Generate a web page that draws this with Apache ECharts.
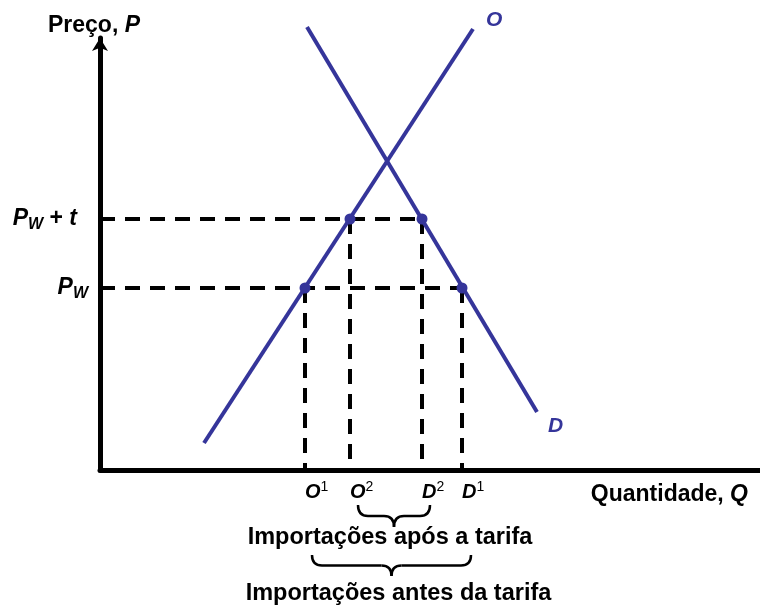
<!DOCTYPE html>
<html>
<head>
<meta charset="utf-8">
<script src="https://cdn.jsdelivr.net/npm/echarts@6/dist/echarts.min.js"></script>
<style>
  html, body { margin: 0; padding: 0; background: #fff; }
  #chart { width: 760px; height: 606px; }
</style>
</head>
<body>
<div id="chart"></div>
<script>
// curve end points (Q, P)
const supply = [[10.4, 2.7], [37.3, 44.1]];
const demand = [[20.7, 44.3], [43.7, 5.8]];

// price levels
const priceW = 18.2;
const priceWt = 25.1;
const yTickValues = [priceW, priceWt];
const yTickLabels = ['{p|P}{w|W}', '{p|P}{w|W}{o| + }{p|t}{g| }'];

// quantities at the two prices
const qO1 = 20.5, qO2 = 25.0, qD2 = 32.2, qD1 = 36.2;
const xTickValues = [qO1, qO2, qD2, qD1];
const xTickLabels = ['{m|O}{s|1}', '{m|O}{s|2}', '{m|D}{s|2}', '{m|D}{s|1}'];

const blue = '#35359a';
const font = 'Liberation Sans, Arial, sans-serif';

const dashed = (points) => ({
  type: 'line',
  data: points,
  symbol: 'none',
  silent: true,
  z: 1,
  lineStyle: { color: '#000', width: 4, type: [15, 10] },
});

const chart = echarts.init(document.getElementById('chart'));

const option = {
  animation: false,
  grid: { left: 100, right: 0, top: 38, bottom: 136 },
  xAxis: {
    type: 'value',
    min: 0,
    max: 66,
    splitLine: { show: false },
    axisTick: { show: false },
    axisLine: { lineStyle: { color: '#000', width: 5 } },
    axisLabel: {
      customValues: xTickValues,
      align: 'left',
      margin: 10,
      formatter: (v) => xTickLabels[xTickValues.indexOf(v)],
      rich: {
        m: { fontFamily: font, fontSize: 20, fontWeight: 'bold', fontStyle: 'italic', color: '#000' },
        s: { fontFamily: font, fontSize: 14, color: '#000', padding: [0, 0, 10, 0] },
      },
    },
  },
  yAxis: {
    type: 'value',
    min: 0,
    max: 43.2,
    name: '{n|Preço, }{i|P}',
    nameLocation: 'end',
    nameGap: 1,
    nameTextStyle: {
      padding: [0, 12, 0, 0],
      rich: {
        n: { fontFamily: font, fontSize: 23, fontWeight: 'bold', color: '#000' },
        i: { fontFamily: font, fontSize: 23, fontWeight: 'bold', fontStyle: 'italic', color: '#000' },
      },
    },
    splitLine: { show: false },
    axisTick: { show: false },
    axisLine: {
      symbol: ['none', 'arrow'],
      symbolSize: [12, 13],
      lineStyle: { color: '#000', width: 5 },
    },
    axisLabel: {
      customValues: yTickValues,
      margin: 12,
      formatter: (v) => yTickLabels[yTickValues.indexOf(v)],
      rich: {
        p: { fontFamily: font, fontSize: 23, fontWeight: 'bold', fontStyle: 'italic', color: '#000' },
        w: { fontFamily: font, fontSize: 16, fontWeight: 'bold', fontStyle: 'italic', color: '#000', padding: [12, 0, 0, 0] },
        o: { fontFamily: font, fontSize: 23, fontWeight: 'bold', color: '#000' },
        g: { width: 11 },
      },
    },
  },
  series: [
    dashed([[0, priceWt], [qD2, priceWt]]),
    dashed([[0, priceW], [qD1, priceW]]),
    dashed([[qO1, priceW], [qO1, 0]]),
    dashed([[qO2, priceWt], [qO2, 0]]),
    dashed([[qD2, priceWt], [qD2, 0]]),
    dashed([[qD1, priceW], [qD1, 0]]),
    {
      name: 'O',
      type: 'line',
      data: supply,
      symbol: 'none',
      clip: false,
      z: 3,
      lineStyle: { color: blue, width: 4 },
      endLabel: {
        show: true,
        formatter: 'O',
        offset: [5, -9],
        fontFamily: font, fontSize: 21, fontWeight: 'bold', fontStyle: 'italic', color: blue,
      },
    },
    {
      name: 'D',
      type: 'line',
      data: demand,
      symbol: 'none',
      clip: false,
      z: 3,
      lineStyle: { color: blue, width: 4 },
      endLabel: {
        show: true,
        formatter: 'D',
        offset: [3, 14],
        fontFamily: font, fontSize: 21, fontWeight: 'bold', fontStyle: 'italic', color: blue,
      },
    },
    {
      type: 'scatter',
      data: [[qO1, priceW], [qO2, priceWt], [qD2, priceWt], [qD1, priceW]],
      symbolSize: 11,
      z: 4,
      itemStyle: { color: blue, opacity: 1 },
    },
  ],
};

chart.setOption(option);

// braces and notes under the axis, placed from the quantities
const px = (q) => chart.convertToPixel({ gridIndex: 0 }, [q, 0])[0];
const stroke = { fill: null, stroke: '#000', lineWidth: 2.5 };

// a curly brace opening upward, tip pointing down at the middle
const brace = (x0, x1, y0, h) => {
  const ym = y0 + h / 2;
  const y1 = y0 + h;
  const mid = (x0 + x1) / 2;
  const r = 10;
  const curve = (ax, ay, cx, cy, bx, by) => ({
    type: 'bezierCurve',
    shape: { x1: ax, y1: ay, cpx1: cx, cpy1: cy, x2: bx, y2: by },
    style: stroke,
  });
  const line = (ax, bx) => ({ type: 'line', shape: { x1: ax, y1: ym, x2: bx, y2: ym }, style: stroke });
  return [
    curve(x0, y0, x0, ym, x0 + r, ym),
    line(x0 + r, mid - r),
    curve(mid - r, ym, mid, ym, mid, y1),
    curve(mid, y1, mid, ym, mid + r, ym),
    line(mid + r, x1 - r),
    curve(x1 - r, ym, x1, ym, x1, y0),
  ];
};

const b1x0 = px(qO2) + 8, b1x1 = px(qD2) + 8;
const b2x0 = px(qO1) + 7, b2x1 = px(qD1) + 9;
const textStyle = { fontFamily: font, fontSize: 23.5, fontWeight: 'bold', fill: '#000', align: 'center', verticalAlign: 'middle' };

chart.setOption({
  graphic: [
    ...brace(b1x0, b1x1, 505, 22),
    ...brace(b2x0, b2x1, 555, 21),
    { type: 'text', x: (b1x0 + b1x1) / 2 - 4, y: 538, style: Object.assign({ text: 'Importações após a tarifa' }, textStyle) },
    { type: 'text', x: (b2x0 + b2x1) / 2 + 7, y: 594, style: Object.assign({ text: 'Importações antes da tarifa' }, textStyle) },
    {
      type: 'text',
      x: 748,
      y: 495,
      style: {
        text: '{n|Quantidade, }{i|Q}',
        align: 'right',
        verticalAlign: 'middle',
        rich: {
          n: { fontFamily: font, fontSize: 23, fontWeight: 'bold', fill: '#000' },
          i: { fontFamily: font, fontSize: 23, fontWeight: 'bold', fontStyle: 'italic', fill: '#000' },
        },
      },
    },
  ],
});
</script>
</body>
</html>
